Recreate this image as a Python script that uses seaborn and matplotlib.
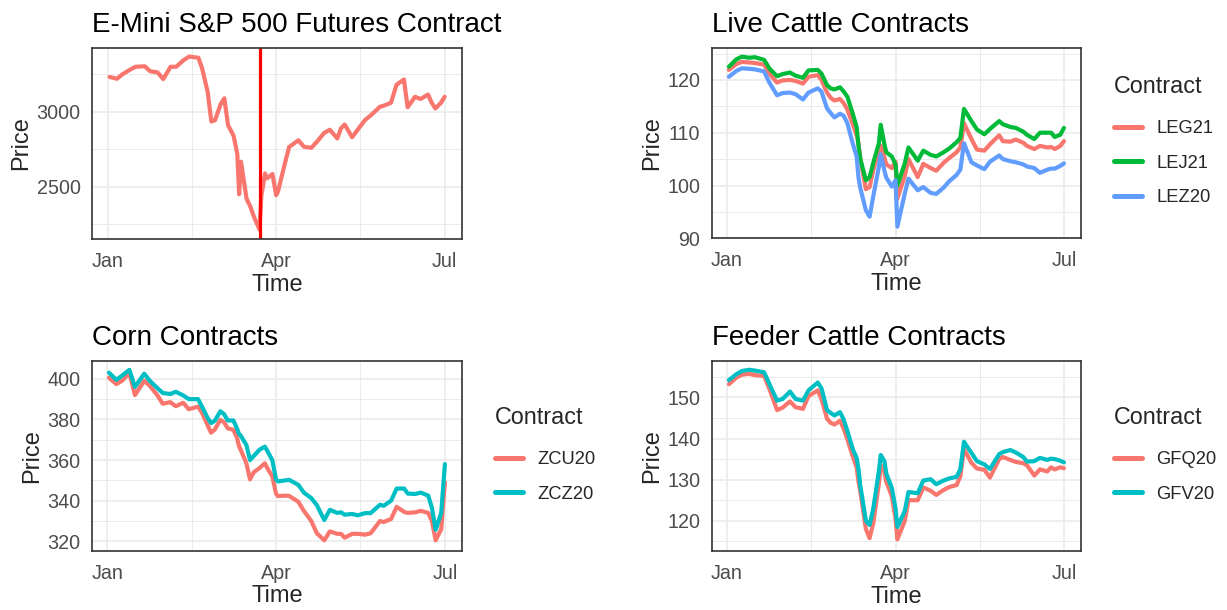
import numpy as np
import pandas as pd
import matplotlib
matplotlib.use("Agg")
import matplotlib.pyplot as plt
import seaborn as sns

# trading dates (Jan 2 - Jul 1, 2020)
dates = [
    "2020-01-02", "2020-01-06", "2020-01-09", "2020-01-13", "2020-01-16", "2020-01-21", "2020-01-24", "2020-01-28", "2020-01-31",
    "2020-02-04", "2020-02-07", "2020-02-11", "2020-02-14", "2020-02-19", "2020-02-21", "2020-02-24", "2020-02-26", "2020-02-28",
    "2020-03-02", "2020-03-04", "2020-03-06", "2020-03-09", "2020-03-11", "2020-03-12", "2020-03-13", "2020-03-16", "2020-03-18",
    "2020-03-20", "2020-03-23", "2020-03-24", "2020-03-26", "2020-03-27", "2020-03-30",
    "2020-04-01", "2020-04-02", "2020-04-06", "2020-04-08", "2020-04-13", "2020-04-16", "2020-04-20", "2020-04-23", "2020-04-27", "2020-04-30",
    "2020-05-04", "2020-05-06", "2020-05-08", "2020-05-12", "2020-05-15", "2020-05-19", "2020-05-22", "2020-05-27", "2020-05-29",
    "2020-06-02", "2020-06-05", "2020-06-09", "2020-06-11", "2020-06-15", "2020-06-18", "2020-06-22", "2020-06-24", "2020-06-26", "2020-06-29",
    "2020-07-01",
]

sp500 = [
    3232, 3220, 3250, 3280, 3300, 3303, 3270, 3262, 3218,
    3300, 3300, 3344, 3368, 3360, 3290, 3133, 2935, 2944,
    3050, 3090, 2911, 2840, 2720, 2450, 2667, 2420, 2370, 2300, 2215, 2440, 2589, 2556, 2585,
    2444, 2470, 2670, 2765, 2810, 2767, 2760, 2800, 2860, 2880,
    2822, 2890, 2915, 2830, 2880, 2945, 2975, 3033, 3040,
    3060, 3180, 3215, 3030, 3100, 3085, 3115, 3060, 3022, 3060,
    3100,
]
crash_date = "2020-03-23"

leg21 = [
    121.9, 123.0, 123.4, 123.3, 123.2, 122.9, 121.1, 119.5, 119.9,
    120.0, 119.8, 119.3, 120.6, 120.9, 120.0, 117.6, 116.6, 116.1,
    116.4, 115.6, 114.4, 111.5, 109.5, 108.0, 105.0, 99.3, 99.7, 103.0, 106.5, 107.5, 105.3, 104.0, 103.3,
    104.5, 97.5, 101.8, 105.0, 101.6, 104.1, 103.3, 102.8, 104.3, 105.2,
    106.3, 107.2, 111.8, 108.8, 106.8, 106.6, 107.8, 109.5, 108.4,
    108.3, 108.7, 108.1, 107.5, 106.9, 107.5, 107.2, 107.3, 106.9, 107.5,
    108.4,
]
lej21 = [
    122.5, 123.9, 124.4, 124.2, 124.3, 123.8, 122.1, 120.7, 121.1,
    121.4, 120.8, 120.4, 121.8, 121.9, 121.2, 119.0, 118.4, 118.2,
    118.6, 117.8, 116.8, 113.5, 111.0, 107.5, 105.0, 101.0, 101.6, 104.3, 108.0, 111.5, 107.8, 106.3, 105.5,
    104.0, 100.0, 104.2, 107.2, 104.7, 106.6, 105.8, 105.5, 106.3, 107.0,
    108.2, 109.0, 114.5, 112.2, 110.6, 109.7, 110.7, 112.2, 111.6,
    111.1, 110.9, 110.2, 109.6, 108.8, 110.0, 110.0, 110.0, 109.2, 109.6,
    110.9,
]
lez20 = [
    120.6, 121.7, 122.2, 122.1, 122.0, 121.6, 119.4, 117.1, 117.5,
    117.6, 117.3, 116.3, 117.6, 118.4, 117.8, 114.6, 113.7, 112.9,
    113.6, 113.2, 111.8, 107.8, 105.5, 101.5, 99.5, 95.3, 94.1, 98.0, 103.5, 105.9, 102.8, 101.5, 99.8,
    101.0, 92.2, 98.5, 101.3, 99.1, 99.7, 98.6, 98.4, 99.6, 100.8,
    102.0, 103.0, 108.0, 104.4, 103.8, 103.1, 104.5, 105.7, 105.0,
    104.6, 104.4, 104.0, 103.6, 103.3, 102.4, 103.0, 103.2, 103.2, 103.7,
    104.2,
]

zcu20 = [
    400.5, 397.4, 399.0, 402.8, 392.0, 399.0, 396.5, 392.0, 387.7,
    388.5, 386.5, 388.2, 385.0, 386.3, 383.5, 377.5, 373.5, 375.0,
    379.8, 378.6, 375.6, 374.9, 371.0, 367.0, 365.0, 358.5, 350.5, 354.0, 356.0, 356.8, 358.4, 356.5, 352.0,
    343.5, 342.3, 342.5, 342.4, 339.5, 335.0, 330.0, 324.0, 320.5, 324.9,
    323.7, 323.7, 321.8, 323.7, 323.7, 323.3, 324.0, 330.0, 329.5,
    331.0, 337.0, 334.5, 334.0, 334.3, 335.0, 334.0, 330.0, 320.5, 326.0,
    349.0,
]
zcz20 = [
    403.0, 399.5, 401.5, 404.4, 396.0, 402.5, 399.0, 395.5, 393.0,
    392.5, 393.6, 391.8, 390.0, 390.0, 386.5, 381.0, 378.2, 379.3,
    384.0, 382.6, 379.5, 379.5, 375.5, 373.0, 372.0, 367.5, 360.0, 362.0, 365.0, 365.6, 366.6, 365.0, 360.0,
    350.5, 349.5, 350.0, 350.3, 347.8, 344.0, 341.3, 337.8, 330.5, 335.5,
    334.0, 334.3, 333.1, 333.5, 332.8, 333.9, 333.9, 338.0, 337.5,
    340.0, 346.0, 346.0, 343.5, 343.3, 344.0, 342.5, 336.5, 325.7, 334.0,
    358.0,
]

gfq20 = [
    153.2, 154.8, 155.5, 155.7, 155.4, 155.2, 151.9, 146.9, 147.5,
    149.0, 147.6, 147.2, 150.3, 151.7, 149.6, 144.8, 143.8, 143.4,
    144.3, 142.4, 139.8, 135.5, 133.0, 129.5, 127.0, 118.0, 115.8, 119.5, 129.0, 133.5, 131.9, 129.5, 126.0,
    120.5, 115.5, 120.0, 125.0, 125.0, 128.1, 127.3, 126.3, 127.5, 128.2,
    128.7, 130.8, 137.4, 134.1, 132.7, 132.4, 130.5, 135.0, 135.5,
    134.8, 134.3, 134.0, 133.5, 131.0, 132.5, 132.0, 133.0, 132.5, 133.0,
    132.8,
]
gfv20 = [
    154.2, 155.6, 156.4, 156.7, 156.5, 156.1, 153.1, 149.2, 149.6,
    151.4, 149.6, 149.2, 151.7, 153.6, 152.2, 146.9, 146.2, 145.6,
    146.4, 144.6, 141.8, 137.3, 135.3, 132.5, 128.5, 120.0, 119.0, 123.0, 132.0, 136.0, 134.5, 131.5, 128.0,
    123.0, 118.5, 122.4, 127.0, 126.7, 129.8, 130.1, 128.9, 129.8, 130.3,
    130.7, 132.5, 139.2, 136.5, 134.5, 133.7, 132.6, 136.2, 136.7,
    137.2, 136.6, 135.5, 134.4, 134.5, 135.3, 134.8, 135.1, 135.0, 134.6,
    134.2,
]

time = pd.to_datetime(dates)


def long_frame(series):
    parts = [pd.DataFrame({"Time": time, "Price": vals, "Contract": name}) for name, vals in series.items()]
    return pd.concat(parts, ignore_index=True)


sp_df = pd.DataFrame({"Time": time, "Price": sp500})
lc_df = long_frame({"LEG21": leg21, "LEJ21": lej21, "LEZ20": lez20})
corn_df = long_frame({"ZCU20": zcu20, "ZCZ20": zcz20})
fc_df = long_frame({"GFQ20": gfq20, "GFV20": gfv20})

sns.set_theme(style="white")
plt.rcParams["font.family"] = ["Liberation Sans", "DejaVu Sans"]

W, H = 1227, 610
fig = plt.figure(figsize=(W / 100, H / 100), dpi=100)


def px_axes(left, right, top, bottom):
    return fig.add_axes([left / W, 1 - bottom / H, (right - left) / W, (bottom - top) / H])


jan1 = pd.Timestamp("2020-01-01")
xlim = (jan1 - pd.Timedelta(days=8.3), jan1 + pd.Timedelta(days=191.2))
xmajor = pd.to_datetime(["2020-01-01", "2020-04-01", "2020-07-01"])
xminor = pd.to_datetime(["2020-02-15 12:00", "2020-05-16 12:00"])

LINE_W = 3.0
TXT = "#4D4D4D"
DARK = "#333333"


def style_panel(ax, title, ylim, yticks, yminor):
    ax.set_xlim(*xlim)
    ax.set_ylim(*ylim)
    ax.set_xticks(xmajor)
    ax.set_xticklabels(["Jan", "Apr", "Jul"])
    ax.set_xticks(xminor, minor=True)
    ax.set_yticks(yticks)
    ax.set_yticks(yminor, minor=True)
    ax.grid(which="major", color="#EBEBEB", lw=1.2)
    ax.grid(which="minor", color="#EBEBEB", lw=0.7)
    ax.set_axisbelow(True)
    ax.tick_params(which="minor", length=0)
    ax.tick_params(which="major", length=4.3, width=1, color=DARK, labelcolor=TXT, labelsize=14.2)
    ax.tick_params(axis="x", pad=5)
    ax.tick_params(axis="y", pad=4)
    for s in ax.spines.values():
        s.set_color(DARK)
        s.set_linewidth(1.2)
    ax.set_title(title, loc="left", fontsize=20, pad=11, color="black")
    ax.set_xlabel("Time", fontsize=17, labelpad=2)
    ax.set_ylabel("Price", fontsize=17, labelpad=3)


def add_legend(ax, x, y):
    handles, labels = ax.get_legend_handles_labels()
    leg = ax.legend(handles, labels, title="Contract", loc="upper left",
                    bbox_to_anchor=(x / W, 1 - y / H), bbox_transform=fig.transFigure,
                    frameon=False, fontsize=13.2, title_fontsize=16.8, borderpad=0,
                    handlelength=1.5, handletextpad=0.8, labelspacing=0.95)
    leg._legend_box.align = "left"
    leg._legend_box.sep = 16
    for line in leg.get_lines():
        line.set_linewidth(LINE_W + 0.6)


# E-mini S&P 500
ax1 = px_axes(92.3, 461.7, 47.7, 239.3)
sns.lineplot(data=sp_df, x="Time", y="Price", color="#F8766D", linewidth=LINE_W, ax=ax1)
ax1.axvline(pd.Timestamp(crash_date), color="red", lw=2.3)
style_panel(ax1, "E-Mini S&P 500 Futures Contract", (2150, 3427),
            [2500, 3000], [2250, 2750, 3250])

# Live cattle
ax2 = px_axes(711.7, 1081, 47.7, 238.3)
sns.lineplot(data=lc_df, x="Time", y="Price", hue="Contract",
             hue_order=["LEG21", "LEJ21", "LEZ20"],
             palette=["#F8766D", "#00BA38", "#619CFF"], linewidth=LINE_W, ax=ax2)
style_panel(ax2, "Live Cattle Contracts", (90.3, 126.1),
            [90, 100, 110, 120], [95, 105, 115, 125])
add_legend(ax2, 1105, 66)

# Corn
ax3 = px_axes(91.7, 462, 360.7, 550.7)
sns.lineplot(data=corn_df, x="Time", y="Price", hue="Contract",
             hue_order=["ZCU20", "ZCZ20"],
             palette=["#F8766D", "#00BFC4"], linewidth=LINE_W, ax=ax3)
style_panel(ax3, "Corn Contracts", (315.4, 408.9),
            [320, 340, 360, 380, 400], [330, 350, 370, 390])
add_legend(ax3, 486, 397)

# Feeder cattle
ax4 = px_axes(711.7, 1081, 360.7, 551.3)
sns.lineplot(data=fc_df, x="Time", y="Price", hue="Contract",
             hue_order=["GFQ20", "GFV20"],
             palette=["#F8766D", "#00BFC4"], linewidth=LINE_W, ax=ax4)
style_panel(ax4, "Feeder Cattle Contracts", (112.6, 158.9),
            [120, 130, 140, 150], [115, 125, 135, 145, 155])
add_legend(ax4, 1105, 397)

fig.savefig("out.png", dpi=100, facecolor="white")
